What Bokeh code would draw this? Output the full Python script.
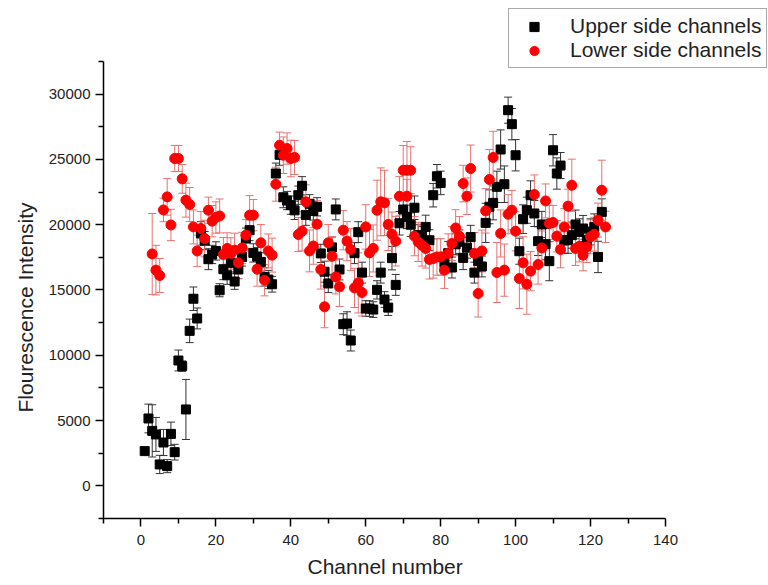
from bokeh.plotting import figure
from bokeh.models import (ColumnDataSource, Whisker, TeeHead, FixedTicker, Legend,
                          LegendItem, Range1d, Title)
from bokeh.embed import file_html
from bokeh.resources import INLINE

# ---------------- data ----------------
upper_ch = list(range(1, 124))
upper_val = [2660, 5160, 4210, 3940, 1640, 3320, 1510, 3980, 2580, 9600,
             9170, 5850, 11870, 14330, 12820, 19330, 18780, 17360, 17720, 17990,
             14980, 16590, 16130, 17080, 15650, 16570, 17530, 18940, 19580, 17840,
             17560, 17150, 16000, 15800, 15440, 23920, 25350, 22100, 21850, 21500,
             21100, 22260, 22980, 20750, 21600, 21050, 21370, 17800, 16400, 15500,
             18260, 21170, 16570, 12380, 12430, 11130, 17820, 19430, 16330, 13580,
             13580, 13500, 15010, 16330, 14270, 13650, 17440, 15390, 20110, 21160,
             20600, 20000, 21300, 19200, 19070, 19830, 18810, 22260, 23710, 23200,
             17080, 17820, 16720, 18500, 18700, 17460, 18240, 19050, 16330, 17210,
             16800, 20140, 21370, 21670, 22900, 25760, 23100, 28770, 27700, 25320,
             17970, 20420, 21110, 22260, 20860, 18740, 20020, 18510, 17210, 25700,
             23920, 24530, 18810, 18810, 19200, 20020, 19450, 19710, 18810, 19450,
             19830, 17530, 20980]
upper_err = [200, 1100, 2000, 1300, 700, 1000, 500, 900, 600, 800,
             400, 2300, 900, 900, 800, 900, 700, 800, 700, 700,
             500, 800, 700, 700, 600, 700, 700, 800, 800, 700,
             700, 700, 700, 700, 600, 800, 800, 800, 700, 700,
             700, 700, 700, 800, 700, 700, 700, 700, 800, 700,
             800, 800, 800, 800, 900, 800, 800, 800, 800, 600,
             600, 600, 700, 800, 600, 600, 900, 800, 900, 900,
             900, 900, 900, 800, 800, 900, 800, 900, 900, 900,
             800, 900, 800, 800, 900, 900, 800, 900, 800, 800,
             800, 1500, 1300, 1300, 1200, 1500, 1400, 1000, 1200, 1200,
             1000, 1100, 1000, 1100, 1000, 1100, 1000, 1200, 1500, 1200,
             1200, 1000, 1000, 1000, 1000, 1100, 1000, 1000, 1000, 1000,
             1000, 1200, 1000]

lower_ch = list(range(3, 125)) + [71]
lower_val = [17760, 16520, 16110, 21130, 22130, 19980, 25070, 25070, 23510, 21880,
             21550, 19830, 17990, 19710, 18940, 21110, 20270, 20550, 20670, 17720,
             18180, 17800, 18050, 17080, 18220, 19200, 20730, 20730, 16590, 18610,
             15750, 17990, 17670, 23100, 26090, 25320, 25830, 25070, 25150, 19250,
             19500, 21750, 17990, 18370, 20040, 16570, 13710, 18610, 17590, 16000,
             15240, 19580, 18740, 18100, 15160, 15540, 14810, 19830, 17840, 18180,
             21110, 21750, 21670, 20020, 19270, 18740, 22180, 24170, 24170, 24170,
             19120, 18680, 18430, 18180, 17340, 17410, 17530, 17530, 16520, 17800,
             18560, 19750, 19120, 23150, 22180, 24300, 17800, 14730, 17990, 21060,
             23460, 25150, 16340, 19330, 16520, 20800, 21110, 19500, 15880, 17080,
             15440, 16440, 22310, 16950, 18220, 21820, 20090, 20170, 19120, 18100,
             19830, 21420, 23020, 18180, 18350, 17670, 18300, 19070, 19270, 20350,
             22640, 19830, 22180]
lower_err = [3100, 1900, 1300, 900, 1400, 1200, 1000, 1000, 1100, 1300,
             1300, 1300, 1200, 1300, 1400, 1000, 1200, 1200, 1300, 1300,
             1200, 1200, 1300, 1200, 1200, 1200, 1500, 1200, 1300, 1400,
             1200, 1300, 1300, 1300, 1000, 1400, 1200, 1400, 1300, 1300,
             1500, 1300, 1600, 1400, 1800, 1500, 1600, 1400, 1500, 1300,
             1500, 1500, 1500, 1600, 1500, 2300, 1800, 1700, 1800, 1800,
             2300, 2600, 2500, 2000, 1700, 1900, 1500, 1900, 2200, 1800,
             1500, 1500, 1600, 1500, 1500, 1500, 1400, 1400, 1400, 1500,
             1300, 1400, 1500, 1400, 1400, 1800, 1600, 1800, 1600, 1700,
             2300, 2000, 2300, 1800, 2000, 1500, 1500, 1500, 2300, 2000,
             2300, 1500, 1500, 1500, 1300, 1300, 1400, 1300, 1200, 1400,
             1400, 1300, 2000, 1300, 1200, 1200, 1200, 1300, 1300, 1300,
             2300, 1200, 1300]

x_major = [0, 20, 40, 60, 80, 100, 120, 140]
x_minor = [-10, 10, 30, 50, 70, 90, 110, 130]
y_major = [0, 5000, 10000, 15000, 20000, 25000, 30000]
y_minor = [-2500, 2500, 7500, 12500, 17500, 22500, 27500, 32500]
x_axis_bounds = (-10, 140)
y_axis_bounds = (-2500, 32500)

FONT = "Liberation Sans"

# ---------------- figure ----------------
# the frame reaches the top and right edges so the legend (which sits above
# the end of the y axis) is not clipped; the axis lines are limited by bounds
p = figure(width=768, height=585, output_backend="svg", toolbar_location=None,
           x_range=Range1d(-10, 167.5), y_range=Range1d(-2500, 37170),
           min_border_left=103, min_border_right=0, min_border_top=0,
           min_border_bottom=67)
p.outline_line_color = None
p.xgrid.visible = False
p.ygrid.visible = False
p.background_fill_color = "white"
p.border_fill_color = "white"

src_u = ColumnDataSource(dict(x=upper_ch, y=upper_val,
                              lo=[v - e for v, e in zip(upper_val, upper_err)],
                              hi=[v + e for v, e in zip(upper_val, upper_err)]))
src_l = ColumnDataSource(dict(x=lower_ch, y=lower_val,
                              lo=[v - e for v, e in zip(lower_val, lower_err)],
                              hi=[v + e for v, e in zip(lower_val, lower_err)]))

wu = Whisker(source=src_u, base="x", upper="hi", lower="lo", dimension="height",
             line_color="#333333", line_width=1,
             upper_head=TeeHead(size=8, line_color="#333333", line_width=1),
             lower_head=TeeHead(size=8, line_color="#333333", line_width=1))
wl = Whisker(source=src_l, base="x", upper="hi", lower="lo", dimension="height",
             line_color="#e87272", line_width=1,
             upper_head=TeeHead(size=8, line_color="#e87272", line_width=1),
             lower_head=TeeHead(size=8, line_color="#e87272", line_width=1))
p.add_layout(wu)
p.add_layout(wl)

r_u = p.scatter("x", "y", source=src_u, marker="square", size=9,
                fill_color="black", line_color="black")
r_l = p.scatter("x", "y", source=src_l, marker="circle", size=10,
                fill_color="#ff0000", line_color="#ff0000")

# axes
for ax in (p.xaxis[0], p.yaxis[0]):
    ax.axis_line_color = "black"
    ax.axis_line_width = 1.5
    ax.major_tick_line_color = "black"
    ax.minor_tick_line_color = "black"
    ax.major_tick_line_width = 1.5
    ax.minor_tick_line_width = 1.5
    ax.major_tick_in = 0
    ax.minor_tick_in = 0
    ax.major_tick_out = 8
    ax.minor_tick_out = 5
    ax.major_label_text_font = FONT
    ax.major_label_text_font_size = "15px"
    ax.major_label_text_color = "#222222"

p.xaxis.ticker = FixedTicker(ticks=x_major, minor_ticks=x_minor)
p.yaxis.ticker = FixedTicker(ticks=y_major, minor_ticks=y_minor)
p.xaxis.bounds = x_axis_bounds
p.yaxis.bounds = y_axis_bounds
p.xaxis.major_label_standoff = 8
p.yaxis.major_label_standoff = 5

# axis titles as Titles so that they can be centred on the axis lines
# (the frame itself extends beyond the axes)
x_title = Title(text="Channel number", align="left", offset=204,
                text_font=FONT, text_font_size="21px", text_font_style="normal",
                text_color="#222222", standoff=10)
y_title = Title(text="Flourescence Intensity", align="left", offset=106,
                text_font=FONT, text_font_size="21px", text_font_style="normal",
                text_color="#222222", standoff=18)
p.add_layout(x_title, "below")
p.add_layout(y_title, "left")

legend = Legend(items=[LegendItem(label="Upper side channels", renderers=[r_u]),
                       LegendItem(label="Lower side channels", renderers=[r_l])],
                location=(405, 450), orientation="vertical",
                label_text_font=FONT, label_text_font_size="21px",
                label_text_color="#222222",
                glyph_width=40, glyph_height=23, label_height=23,
                label_standoff=16, padding=5, spacing=0, margin=0,
                border_line_color="#555555", border_line_width=1.5,
                background_fill_color="white", background_fill_alpha=1.0)
p.add_layout(legend)

open("out.html", "w").write(file_html(p, INLINE))
